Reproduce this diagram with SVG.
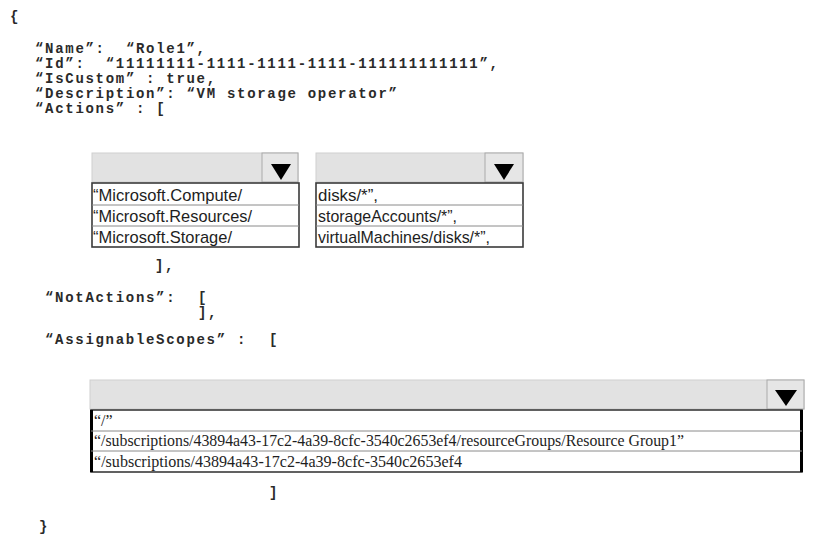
<svg xmlns="http://www.w3.org/2000/svg" width="816" height="550" viewBox="0 0 816 550">
<style>
.code{font-family:"Liberation Mono","Courier New",monospace;font-weight:bold;font-size:14px;letter-spacing:1.7px;fill:#2a2a2a;white-space:pre}
.opt{font-family:"Liberation Sans",Arial,sans-serif;font-size:17px;fill:#1e1e1e}
.opt2{font-family:"Liberation Serif","Times New Roman",serif;font-size:16px;fill:#1e1e1e}
.hdr{fill:#e2e2e2;stroke:#cfcfcf;stroke-width:1}
.cell{fill:#e6e6e6;stroke:#a9a9a9;stroke-width:1}
.list{fill:#ffffff;stroke:#3a3a3a;stroke-width:1.6}
.sep{stroke:#8a8a8a;stroke-width:1}
.arr{fill:#000000}
</style>
<rect width="816" height="550" fill="#ffffff"/>
<g id="code">
<text class="code" x="10" y="21">{</text>
<text class="code" x="35" y="53">“Name”:  “Role1”,</text>
<text class="code" x="35" y="68">“Id”:  “11111111-1111-1111-1111-111111111111”,</text>
<text class="code" x="35" y="83">“IsCustom” : true,</text>
<text class="code" x="35" y="98">“Description”: “VM storage operator”</text>
<text class="code" x="35" y="113">“Actions” : [</text>
<text class="code" x="155" y="270">],</text>
<text class="code" x="45" y="302">“NotActions”:</text>
<text class="code" x="198" y="302">[</text>
<text class="code" x="198" y="317">],</text>
<text class="code" x="45" y="344">“AssignableScopes” :</text>
<text class="code" x="269" y="344">[</text>
<text class="code" x="269" y="497">]</text>
<text class="code" x="39" y="531">}</text>
</g>
<g id="dropdown-provider">
<rect class="hdr" x="92" y="153" width="206" height="29"/>
<rect class="cell" x="262" y="153" width="36" height="29"/>
<polygon class="arr" points="271,164 291,164 281,180"/>
<rect class="list" x="92" y="183" width="207" height="64"/>
<line class="sep" x1="92" y1="205" x2="299" y2="205"/>
<line class="sep" x1="92" y1="226" x2="299" y2="226"/>
<text class="opt" x="93" y="201" textLength="149" lengthAdjust="spacingAndGlyphs">“Microsoft.Compute/</text>
<text class="opt" x="93" y="222" textLength="159" lengthAdjust="spacingAndGlyphs">“Microsoft.Resources/</text>
<text class="opt" x="93" y="243" textLength="139" lengthAdjust="spacingAndGlyphs">“Microsoft.Storage/</text>
</g>
<g id="dropdown-resource">
<rect class="hdr" x="316" y="153" width="207" height="29"/>
<rect class="cell" x="485" y="153" width="38" height="29"/>
<polygon class="arr" points="494,164 514,164 504,180"/>
<rect class="list" x="316" y="183" width="207" height="64"/>
<line class="sep" x1="316" y1="205" x2="523" y2="205"/>
<line class="sep" x1="316" y1="226" x2="523" y2="226"/>
<text class="opt" x="318" y="201" textLength="60" lengthAdjust="spacingAndGlyphs">disks/*”,</text>
<text class="opt" x="318" y="222" textLength="139" lengthAdjust="spacingAndGlyphs">storageAccounts/*”,</text>
<text class="opt" x="318" y="243" textLength="172" lengthAdjust="spacingAndGlyphs">virtualMachines/disks/*”,</text>
</g>
<g id="dropdown-scopes">
<rect class="hdr" x="90" y="380" width="714" height="29"/>
<rect class="cell" x="767" y="380" width="37" height="29"/>
<polygon class="arr" points="775,390 797,390 786,406"/>
<rect class="list" x="91" y="410" width="711" height="62"/>
<line x1="91.5" y1="410" x2="91.5" y2="472" stroke="#000" stroke-width="3"/>
<line x1="801.5" y1="410" x2="801.5" y2="472" stroke="#000" stroke-width="3"/>
<line class="sep" x1="91" y1="431" x2="802" y2="431"/>
<line class="sep" x1="91" y1="451" x2="802" y2="451"/>
<text class="opt2" x="94" y="426">“/”</text>
<text class="opt2" x="94" y="446" textLength="590" lengthAdjust="spacingAndGlyphs">“/subscriptions/43894a43-17c2-4a39-8cfc-3540c2653ef4/resourceGroups/Resource Group1”</text>
<text class="opt2" x="94" y="467" textLength="368" lengthAdjust="spacingAndGlyphs">“/subscriptions/43894a43-17c2-4a39-8cfc-3540c2653ef4</text>
</g>
<g id="connectors"/>
</svg>
